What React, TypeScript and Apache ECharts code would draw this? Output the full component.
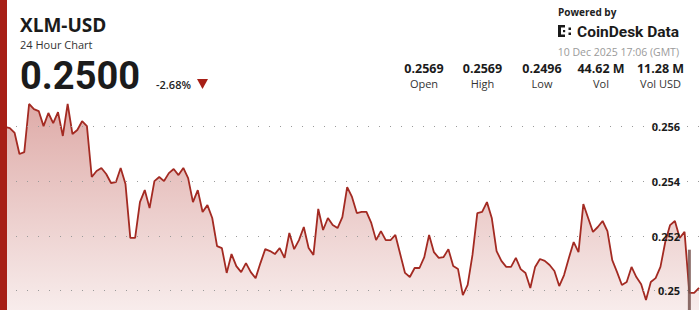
import React, { useEffect, useRef } from "react";
import * as echarts from "echarts";

// 24h XLM-USD price series
const prices: number[] = [
  0.25599, 0.25595, 0.25577, 0.255, 0.25507, 0.25683, 0.25664, 0.25657, 0.25602, 0.2565,
  0.25613, 0.25653, 0.25566, 0.25683, 0.25573, 0.25588, 0.2562, 0.25602, 0.25416, 0.25438,
  0.25449, 0.25427, 0.25394, 0.25397, 0.25449, 0.2539, 0.25193, 0.25193, 0.25324, 0.25368,
  0.25302, 0.25401, 0.25416, 0.25401, 0.2543, 0.25445, 0.25423, 0.25449, 0.25412, 0.25324,
  0.25368, 0.25288, 0.25313, 0.25266, 0.25163, 0.25156, 0.25065, 0.25134, 0.2509, 0.25068,
  0.25101, 0.25068, 0.25046, 0.25101, 0.25152, 0.25145, 0.25134, 0.25156, 0.2512, 0.25211,
  0.25152, 0.25185, 0.25233, 0.25156, 0.25131, 0.25299, 0.25222, 0.25266, 0.2524, 0.25229,
  0.25269, 0.25379, 0.25343, 0.25284, 0.25288, 0.25288, 0.25248, 0.25185, 0.25218, 0.25185,
  0.25185, 0.25204, 0.25134, 0.25065, 0.2505, 0.25083, 0.25083, 0.25123, 0.25204, 0.25141,
  0.2512, 0.25123, 0.25152, 0.2509, 0.25079, 0.24984, 0.25021, 0.25131, 0.25284, 0.25288,
  0.25324, 0.25266, 0.25145, 0.25109, 0.25087, 0.25087, 0.2512, 0.25079, 0.25065, 0.2501,
  0.25087, 0.25116, 0.25109, 0.25094, 0.25072, 0.25017, 0.25057, 0.2512, 0.25178, 0.25141,
  0.25317, 0.25266, 0.25215, 0.25233, 0.25255, 0.25218, 0.25112, 0.25068, 0.25021, 0.25032,
  0.25087, 0.2505, 0.25024, 0.24966, 0.25032, 0.25046, 0.25087, 0.25178, 0.2524, 0.25255,
  0.25193, 0.25215, 0.24992, 0.24992, 0.2501,
];
const categories: string[] = prices.map((_, i) => String(i));

// marker bar near the end of the series
const markerIndex = 142;
const markerValue = 0.2515;

// y axis range and tick step
const yMin = 0.249294;
const yMax = 0.258;
const yStep = 0.002;

// header texts
const symbol = "XLM-USD";
const subtitle = "24 Hour Chart";
const lastPrice = "0.2500";
const change = "-2.68%";
const timestamp = "10 Dec 2025 17:06 (GMT)";
const statValues = ["0.2569", "0.2569", "0.2496", "44.62 M", "11.28 M"];
const statLabels = ["Open", "High", "Low", "Vol", "Vol USD"];

const RED = "#a71f16";
const FONT = "'Open Sans', 'Noto Sans', sans-serif";
const ROBOTO = "Roboto, sans-serif";

export default function App() {
  const ref = useRef<HTMLDivElement>(null);

  useEffect(() => {
    if (!ref.current) return;
    const chart = echarts.init(ref.current, undefined, { renderer: "svg" });

    const statX = [424, 482.5, 542, 601, 660.5];
    const txt = (
      text: string,
      x: number,
      y: number,
      size: number,
      weight: string | number,
      color: string,
      align: string = "left",
      family: string = FONT
    ) => ({
      type: "text",
      z: 50,
      style: {
        text,
        x,
        y,
        fontSize: size,
        lineHeight: size,
        fontWeight: weight,
        fill: color,
        fontFamily: family,
        textAlign: align,
        textVerticalAlign: "middle",
      },
    });

    const graphics: any[] = [
      { type: "rect", z: 100, shape: { x: 0, y: 0, width: 7, height: 310 }, style: { fill: RED } },
      txt(symbol, 20, 24.5, 19, 700, "#1b1b1b"),
      txt(subtitle, 20, 44.5, 11, 400, "#333"),
      txt(lastPrice, 20, 75.5, 38, 700, "#1b1b1b", "left", ROBOTO),
      txt(change, 156, 84, 11, 600, "#222"),
      {
        type: "polygon",
        z: 50,
        shape: { points: [[197, 79], [208, 79], [202.5, 89]] },
        style: { fill: RED },
      },
      txt("Powered by", 558, 12, 10, 700, "#222"),
      // logo glyph
      { type: "rect", z: 50, shape: { x: 558, y: 25, width: 3, height: 12 }, style: { fill: "#1b1b1b" } },
      { type: "rect", z: 50, shape: { x: 558, y: 25, width: 7, height: 2.5 }, style: { fill: "#1b1b1b" } },
      { type: "rect", z: 50, shape: { x: 558, y: 34.5, width: 7, height: 2.5 }, style: { fill: "#1b1b1b" } },
      { type: "rect", z: 50, shape: { x: 563, y: 30, width: 2.2, height: 2.2 }, style: { fill: "#1b1b1b" } },
      { type: "rect", z: 50, shape: { x: 568.5, y: 27.5, width: 2.5, height: 2.5 }, style: { fill: "#1b1b1b" } },
      { type: "rect", z: 50, shape: { x: 568.5, y: 32.5, width: 2.5, height: 2.5 }, style: { fill: "#1b1b1b" } },
      txt("CoinDesk Data", 577, 31.5, 15.5, 700, "#1b1b1b", "left", ROBOTO),
      txt(timestamp, 679, 52, 10.5, 400, "#9a9a9a", "right"),
    ];
    statValues.forEach((v, i) => graphics.push(txt(v, statX[i], 68.5, 12.5, 700, "#1b1b1b", "center")));
    statLabels.forEach((v, i) => graphics.push(txt(v, statX[i], 83, 11, 400, "#333", "center")));

    chart.setOption({
      animation: false,
      grid: { left: 5, right: 1, top: 72, bottom: 0, containLabel: false },
      xAxis: {
        type: "category",
        data: categories,
        boundaryGap: false,
        show: false,
      },
      yAxis: {
        type: "value",
        position: "right",
        min: yMin,
        max: yMax,
        minInterval: yStep,
        maxInterval: yStep,
        axisLine: { show: false },
        axisTick: { show: false },
        axisLabel: {
          inside: true,
          margin: 19,
          showMaxLabel: false,
          showMinLabel: false,
          color: "#1b1b1b",
          fontSize: 11,
          fontWeight: 700,
          fontFamily: FONT,
        },
        splitLine: {
          show: true,
          showMaxLine: false,
          showMinLine: false,
          lineStyle: { color: "#9a9a9a", type: [1, 10], width: 1 },
        },
        z: 10,
      },
      series: [
        {
          type: "line",
          data: prices,
          symbol: "none",
          lineStyle: { color: "#a32a22", width: 1.8 },
          areaStyle: {
            color: new echarts.graphic.LinearGradient(0, 0, 0, 1, [
              { offset: 0, color: "rgba(175,50,42,0.58)" },
              { offset: 1, color: "rgba(175,50,42,0.13)" },
            ]),
          },
          z: 3,
        },
        {
          type: "bar",
          data: prices.map((_, i) => (i === markerIndex ? markerValue : null)),
          barWidth: 3,
          itemStyle: { color: "rgba(120,85,80,0.85)" },
          z: 4,
        },
      ],
      graphic: graphics,
    });

    return () => chart.dispose();
  }, []);

  return (
    <div
      ref={ref}
      style={{ position: "fixed", left: 0, top: 0, width: 700, height: 310, background: "#fff" }}
    />
  );
}
